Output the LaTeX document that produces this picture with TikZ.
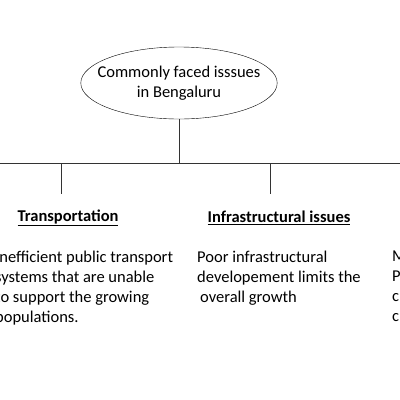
\documentclass[tikz,border=0pt]{standalone}
\usepackage{fontspec}
\setmainfont{Carlito}
\usetikzlibrary{shapes.geometric,positioning}

\begin{document}
\begin{tikzpicture}[
    x=1pt, y=-1pt,
    font=\fontsize{16.5}{20}\selectfont,
    issue/.style={draw, ellipse, minimum height=72pt,
                  align=center, inner xsep=-12pt, inner ysep=2pt, fill=white},
    head/.style={font=\fontsize{16.5}{20}\selectfont\bfseries, inner sep=0pt},
    body/.style={align=left, anchor=north west, inner sep=0pt},
    link/.style={draw=black!80, line width=0.8pt},
  ]
    % page
    \fill[white] (0,0) rectangle (400,400);
    \useasboundingbox (0,0) rectangle (400,400);
    \clip (0,0) rectangle (400,400);

    % Root
    \node[issue] (root) at (179,83) {Commonly faced isssues\\in Bengaluru};

    % Tree joints
    \coordinate (lend)  at (0,163);
    \coordinate (rend)  at (400,163);
    \coordinate (hub)   at (root.south |- lend);
    \coordinate (tjoin) at (61,163);
    \coordinate (ijoin) at (270,163);
    \coordinate (tfoot) at (61,194);
    \coordinate (ifoot) at (270,194);

    % Headings
    \node[head] (transport) at (68,218) {\underline{Transportation}};
    \node[head] (infra)     at (279,218) {\underline{Infrastructural issues}};

    % Descriptions
    \node[body] (tdesc) at (-5,251)
        {Inefficient public transport\\systems that are unable\\to support the growing\\populations.};
    \node[body] (idesc) at (197,251)
        {Poor infrastructural\\developement limits the\\\hspace{3pt}overall growth};
    \node[body] (mdesc) at (392,251) {M\\P\\c\\c};

    % Connectors
    \draw[link] (root.south) -- (hub);
    \draw[link] (lend) -- (rend);
    \draw[link] (tjoin) -- (tfoot);
    \draw[link] (ijoin) -- (ifoot);
\end{tikzpicture}
\end{document}
